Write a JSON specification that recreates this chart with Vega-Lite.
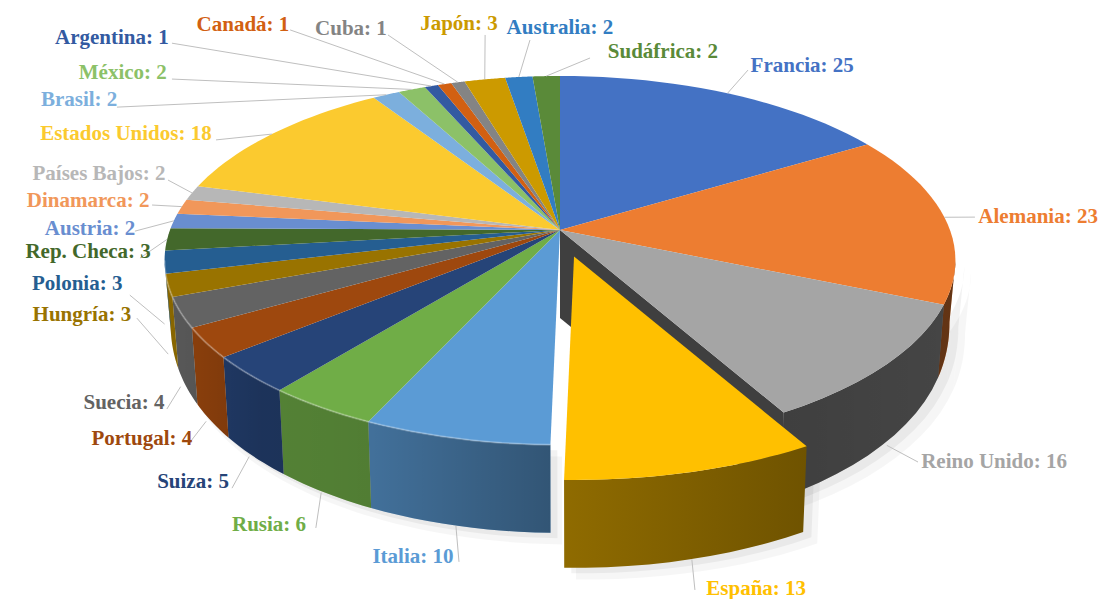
{"$schema":"https://vega.github.io/schema/vega-lite/v6.json","width":1101,"height":599,"padding":0,"autosize":{"type":"none"},"background":"white","config":{"view":{"stroke":null}},
"data":{"values":[
{"orden":1,"pais":"Francia","valor":25},{"orden":2,"pais":"Alemania","valor":23},{"orden":3,"pais":"Reino Unido","valor":16},{"orden":4,"pais":"España","valor":13},{"orden":5,"pais":"Italia","valor":10},{"orden":6,"pais":"Rusia","valor":6},{"orden":7,"pais":"Suiza","valor":5},{"orden":8,"pais":"Portugal","valor":4},{"orden":9,"pais":"Suecia","valor":4},{"orden":10,"pais":"Hungría","valor":3},{"orden":11,"pais":"Polonia","valor":3},{"orden":12,"pais":"Rep. Checa","valor":3},{"orden":13,"pais":"Austria","valor":2},{"orden":14,"pais":"Dinamarca","valor":2},{"orden":15,"pais":"Países Bajos","valor":2},{"orden":16,"pais":"Estados Unidos","valor":18},{"orden":17,"pais":"Brasil","valor":2},{"orden":18,"pais":"México","valor":2},{"orden":19,"pais":"Argentina","valor":1},{"orden":20,"pais":"Canadá","valor":1},{"orden":21,"pais":"Cuba","valor":1},{"orden":22,"pais":"Japón","valor":3},{"orden":23,"pais":"Australia","valor":2},{"orden":24,"pais":"Sudáfrica","valor":2}]},
"transform":[
{"window":[{"op":"sum","field":"valor","as":"acum"}],"sort":[{"field":"orden"}]},
{"joinaggregate":[{"op":"sum","field":"valor","as":"total"}]},
{"calculate":"(datum.acum-datum.valor)/datum.total*2*PI","as":"a0"},
{"calculate":"datum.acum/datum.total*2*PI","as":"a1"},
{"calculate":"datum.pais==='España'?1:0","as":"esp"},
{"calculate":"datum.esp?1.04:1","as":"s"},
{"calculate":"sequence(0,26)","as":"v"},
{"flatten":["v"]},
{"calculate":"datum.a0+(datum.a1-datum.a0)*(datum.v-1)/24","as":"th"},
{"calculate":"1+0.165*cos(datum.th)","as":"den"},
{"calculate":"(datum.v==0?0:sin(datum.th)/datum.den)*datum.s+datum.esp*0.036","as":"DX"},
{"calculate":"(datum.v==0?0:-0.46*cos(datum.th)/datum.den)*datum.s+datum.esp*0.068","as":"DY"},
{"calculate":"max(datum.a0,1.737)","as":"wa0"},
{"calculate":"min(datum.a1,4.546)","as":"wa1"},
{"calculate":"datum.v<13?0:1","as":"side"},
{"calculate":"datum.v<13?datum.v/12:(25-datum.v)/12","as":"k"},
{"calculate":"datum.wa0+(datum.wa1-datum.wa0)*datum.k","as":"wt"},
{"calculate":"1+0.165*cos(datum.wt)","as":"wd"},
{"calculate":"0.2256*pow(max(-cos(datum.wt),0.01),0.2)","as":"depth"},
{"calculate":"(sin(datum.wt)/datum.wd*(1-datum.side*0.015))*datum.s+datum.esp*0.036","as":"WX"},
{"calculate":"(-0.46*cos(datum.wt)/datum.wd)*datum.s+datum.side*datum.depth+datum.esp*0.068","as":"WY"},
{"calculate":"datum.side==0?datum.wt:100-datum.wt","as":"ow"},
{"calculate":"datum.a1>1.737&&datum.a0<4.546?1:0","as":"front"}
],
"encoding":{
"x":{"field":"X","type":"quantitative","axis":null,"scale":{"domain":[-1.4359,1.3872],"nice":false,"zero":false}},
"y":{"field":"Y","type":"quantitative","axis":null,"scale":{"domain":[-0.5897,0.9462],"reverse":true,"nice":false,"zero":false}}},
"layer":[
{"transform":[{"filter":"datum.front==1"},{"calculate":"datum.WX*1.01+0.03","as":"X"},{"calculate":"datum.WY+0.03","as":"Y"}],
 "mark":{"type":"line","filled":true,"interpolate":"linear-closed","color":"#000000","opacity":0.035,"strokeWidth":0},
 "encoding":{"detail":{"field":"pais"},"order":{"field":"v"}}},
{"transform":[{"filter":"datum.front==1"},{"calculate":"datum.WX*1.005+0.018","as":"X"},{"calculate":"datum.WY+0.014","as":"Y"}],
 "mark":{"type":"line","filled":true,"interpolate":"linear-closed","color":"#000000","opacity":0.05,"strokeWidth":0},
 "encoding":{"detail":{"field":"pais"},"order":{"field":"v"}}},
{"transform":[{"filter":"datum.front==1&&datum.esp==0"},{"calculate":"datum.WX","as":"X"},{"calculate":"datum.WY","as":"Y"}],
 "mark":{"type":"line","filled":true,"interpolate":"linear-closed","strokeWidth":0.6},
 "encoding":{"color":{"field":"pais","type":"nominal","legend":null,"scale":{"domain":["Francia","Alemania","Reino Unido","España","Italia","Rusia","Suiza","Portugal","Suecia","Hungría","Polonia","Rep. Checa","Austria","Dinamarca","Países Bajos","Estados Unidos","Brasil","México","Argentina","Canadá","Cuba","Japón","Australia","Sudáfrica"],"range":["#4472C4","#ED7D31","#A5A5A5","#FFC000","#5B9BD5","#70AD47","#264478","#9E480E","#636363","#997300","#255E91","#43682B","#698ED0","#F1975A","#B7B7B7","#FBCA2F","#7CAFDD","#8CC168","#335AA1","#D26012","#848484","#CC9A00","#327DC2","#5A8A39"]}},"order":{"field":"v"}}},
{"transform":[{"filter":"datum.front==1&&datum.a1<2.64"},{"calculate":"datum.WX","as":"X"},{"calculate":"datum.WY","as":"Y"}],
 "mark":{"type":"line","filled":true,"interpolate":"linear-closed","strokeWidth":0,"color":{"gradient":"linear","x1":0,"x2":1,"y1":0,"y2":0,"stops":[{"offset":0,"color":"rgba(0,0,0,0.62)"},{"offset":1,"color":"rgba(0,0,0,0.58)"}]}},
 "encoding":{"order":{"field":"ow"}}},
{"transform":[{"filter":"datum.front==1&&datum.a0>3.1"},{"calculate":"datum.WX","as":"X"},{"calculate":"datum.WY","as":"Y"}],
 "mark":{"type":"line","filled":true,"interpolate":"linear-closed","strokeWidth":0,"color":{"gradient":"linear","x1":0,"x2":1,"y1":0,"y2":0,"stops":[{"offset":0,"color":"rgba(0,0,0,0.1)"},{"offset":0.1,"color":"rgba(0,0,0,0.15)"},{"offset":0.25,"color":"rgba(0,0,0,0.25)"},{"offset":0.54,"color":"rgba(0,0,0,0.28)"},{"offset":1,"color":"rgba(0,0,0,0.45)"}]}},
 "encoding":{"order":{"field":"ow"}}},
{"transform":[{"filter":"datum.pais==='Reino Unido'&&datum.v<4"},
  {"calculate":"sin(datum.a1)/(1+0.165*cos(datum.a1))","as":"rx"},
  {"calculate":"-0.46*cos(datum.a1)/(1+0.165*cos(datum.a1))","as":"ry"},
  {"calculate":"datum.v<2?0:datum.rx","as":"X"},
  {"calculate":"datum.v==0?0:datum.v==1?0.2256:datum.v==2?datum.ry+0.2256:datum.ry","as":"Y"}],
 "mark":{"type":"line","filled":true,"interpolate":"linear-closed","color":"#3F3F3F","strokeWidth":0},
 "encoding":{"order":{"field":"v"}}},
{"transform":[{"filter":"datum.esp==0"},{"calculate":"datum.DX","as":"X"},{"calculate":"datum.DY","as":"Y"}],
 "mark":{"type":"line","filled":true,"interpolate":"linear-closed","strokeWidth":0.6},
 "encoding":{"color":{"field":"pais","type":"nominal","legend":null},"order":{"field":"v"}}},
{"transform":[{"filter":"datum.side==0&&datum.front==1&&datum.a0>3.1&&datum.esp==0"},{"calculate":"datum.WX","as":"X"},{"calculate":"datum.WY","as":"Y"}],
 "mark":{"type":"line","color":"#FFFFFF","opacity":0.25,"strokeWidth":2},
 "encoding":{"detail":{"field":"pais"},"order":{"field":"v"}}},
{"transform":[{"filter":"datum.esp==1"},{"calculate":"datum.WX","as":"X"},{"calculate":"datum.WY","as":"Y"}],
 "mark":{"type":"line","filled":true,"interpolate":"linear-closed","strokeWidth":0,"color":{"gradient":"linear","x1":0,"x2":1,"y1":0,"y2":0,"stops":[{"offset":0,"color":"#8F6B00"},{"offset":1,"color":"#6F5300"}]}},
 "encoding":{"order":{"field":"v"}}},
{"transform":[{"filter":"datum.esp==1"},{"calculate":"datum.DX","as":"X"},{"calculate":"datum.DY","as":"Y"}],
 "mark":{"type":"line","filled":true,"interpolate":"linear-closed","strokeWidth":0.6},
 "encoding":{"color":{"field":"pais","type":"nominal","legend":null},"order":{"field":"v"}}},
{"transform":[{"filter":"datum.v==0"},
  {"calculate":"{'Francia':[0.482,-0.41],'Alemania':[1.064,-0.033],'Reino Unido':[0.918,0.595],'España':[0.346,0.923],'Italia':[-0.259,0.851],'Rusia':[-0.626,0.764],'Suiza':[-0.841,0.662],'Portugal':[-0.954,0.551],'Suecia':[-1.008,0.459],'Hungría':[-1.085,0.226],'Polonia':[-1.103,0.167],'Rep. Checa':[-1.077,0.072],'Austria':[-1.09,0.003],'Dinamarca':[-1.046,-0.064],'Países Bajos':[-1.005,-0.128],'Estados Unidos':[-0.882,-0.231],'Brasil':[-1.136,-0.315],'México':[-0.995,-0.387],'Argentina':[-0.995,-0.479],'Canadá':[-0.692,-0.513],'Cuba':[-0.441,-0.5],'Japón':[-0.192,-0.5],'Australia':[-0.077,-0.487],'Sudáfrica':[0.077,-0.441]}[datum.pais]","as":"p"},
  {"calculate":"datum.p[0]","as":"X"},{"calculate":"datum.p[1]","as":"Y"},
  {"calculate":"(datum.a0+datum.a1)/2","as":"am"},
  {"calculate":"sin(datum.am)/(1+0.165*cos(datum.am))*datum.s+datum.esp*0.036","as":"X2"},
  {"calculate":"-0.46*cos(datum.am)/(1+0.165*cos(datum.am))*datum.s+datum.esp*0.068+(-cos(datum.am)>0.12?0.2256*pow(-cos(datum.am),0.2):0)","as":"Y2"}],
 "mark":{"type":"rule","color":"#BFBFBF","strokeWidth":1},
 "encoding":{"x2":{"field":"X2"},"y2":{"field":"Y2"}}},
{"transform":[{"filter":"datum.v==0"},
  {"calculate":"{'Francia':[0.621,-0.421],'Alemania':[1.226,-0.033],'Reino Unido':[1.113,0.595],'España':[0.503,0.921],'Italia':[-0.377,0.838],'Rusia':[-0.746,0.756],'Suiza':[-0.941,0.646],'Portugal':[-1.072,0.536],'Suecia':[-1.118,0.444],'Hungría':[-1.226,0.218],'Polonia':[-1.238,0.138],'Rep. Checa':[-1.21,0.056],'Austria':[-1.205,-0.003],'Dinamarca':[-1.21,-0.074],'Países Bajos':[-1.182,-0.144],'Estados Unidos':[-1.113,-0.246],'Brasil':[-1.233,-0.333],'México':[-1.121,-0.403],'Argentina':[-1.149,-0.492],'Canadá':[-0.813,-0.526],'Cuba':[-0.536,-0.515],'Japón':[-0.259,-0.528],'Australia':[0,-0.518],'Sudáfrica':[0.264,-0.456]}[datum.pais]","as":"p"},
  {"calculate":"datum.p[0]","as":"X"},{"calculate":"datum.p[1]","as":"Y"},
  {"calculate":"datum.pais+': '+datum.valor","as":"etiqueta"}],
 "mark":{"type":"text","font":"Liberation Serif","fontWeight":"bold","fontSize":21,"align":"center","baseline":"middle"},
 "encoding":{"text":{"field":"etiqueta"},"color":{"field":"pais","type":"nominal","legend":null}}}
]}
